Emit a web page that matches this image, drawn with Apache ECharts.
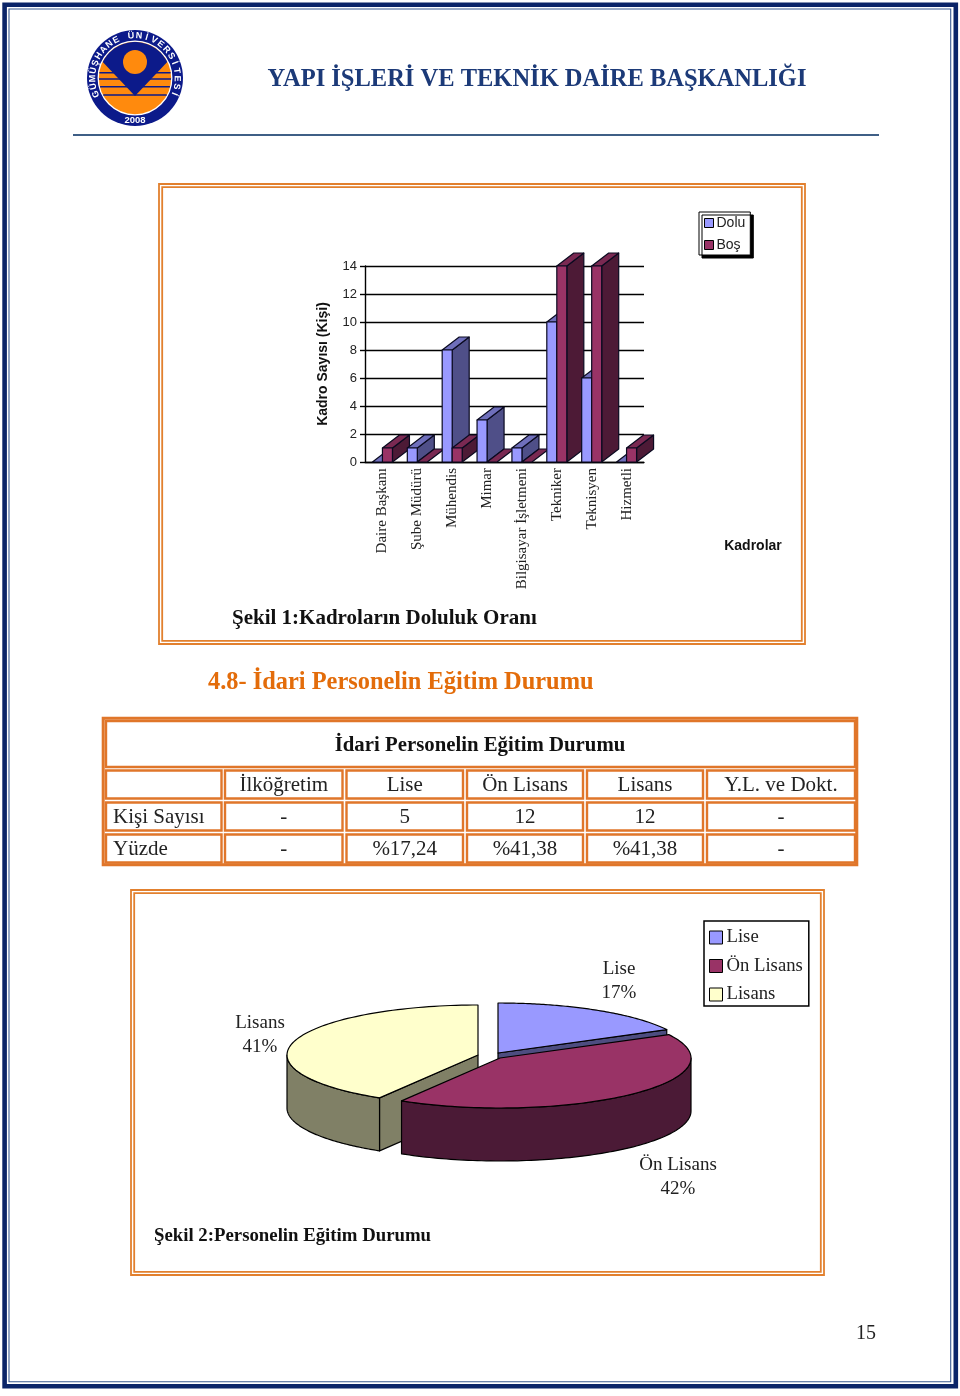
<!DOCTYPE html>
<html><head><meta charset="utf-8">
<style>html,body{margin:0;padding:0;background:#fff}#c{width:960px;height:1396px}</style>
<script src="https://cdn.jsdelivr.net/npm/echarts@6/dist/echarts.min.js"></script>
</head><body><div id="c"></div>
<script>
const categories = ['Daire Başkanı','Şube Müdürü','Mühendis','Mimar','Bilgisayar İşletmeni','Tekniker','Teknisyen','Hizmetli'];
const dolu = [0,1,8,3,1,10,6,0];
const bos = [1,0,1,0,0,14,14,1];
const pieNames = ['Lise','Ön Lisans','Lisans'];
const pieValues = [5,12,12];
const pieLabels = ['17%','42%','41%'];
const tableTitle = 'İdari Personelin Eğitim Durumu';
const tableHead = ['','İlköğretim','Lise','Ön Lisans','Lisans','Y.L. ve Dokt.'];
const tableCount = ['Kişi Sayısı','-','5','12','12','-'];
const tablePct = ['Yüzde','-','%17,24','%41,38','%41,38','-'];

const SERIF = '"Liberation Serif","Times New Roman",serif';
const SANS = '"Liberation Sans",Arial,sans-serif';
const ORANGE = '#e2802e', NAVY = '#0a2468';

const g = [];
function rect(x,y,w,h,stroke,lw,fill){g.push({type:'rect',silent:true,shape:{x,y,width:w,height:h},style:{fill:fill||'none',stroke:stroke,lineWidth:lw}});}
function text(x,y,t,font,fill,align,extra){g.push(Object.assign({type:'text',silent:true,x,y,style:{text:t,font,fill:fill||'#000',align:align||'left',verticalAlign:'middle'}},extra||{}));}
function frame(x,y,w,h){rect(x,y,w,h,ORANGE,1.8);rect(x+3.2,y+3.2,w-6.4,h-6.4,ORANGE,1.8);}

/* page border */
rect(4.6,4.8,951.2,1381.4,NAVY,4.6);
rect(9,9,941.7,1372.7,'#3a5a90',1.1);
/* header */
text(537,79.5,'YAPI İŞLERİ VE TEKNİK DAİRE BAŞKANLIĞI','bold 24.5px '+SERIF,'#1c3a78','center');
g.push({type:'line',silent:true,shape:{x1:73,y1:135,x2:879,y2:135},style:{stroke:'#3f5f86',lineWidth:2}});
/* logo */
(function(){
 const cx=135,cy=78,R=48,r=36;
 g.push({type:'circle',silent:true,shape:{cx,cy,r:R},style:{fill:'#0c1a8a'}});
 g.push({type:'circle',silent:true,shape:{cx,cy,r:r+0.8},style:{fill:'#ff8a0d',stroke:'#fff',lineWidth:1.3}});
 [72.7,79,86.7,95].forEach(y=>{const d=Math.sqrt(r*r-(y-cy)*(y-cy));g.push({type:'line',silent:true,shape:{x1:cx-d,y1:y,x2:cx+d,y2:y},style:{stroke:'#0c1a8a',lineWidth:1.4}});});
 const pts=[];const a0=Math.asin((62-cy)/r);
 for(let i=0;i<=40;i++){const a=Math.PI-a0+(Math.PI+2*a0)*i/40;pts.push([cx+r*Math.cos(a),cy+r*Math.sin(a)]);}
 pts.push([cx,96]);
 g.push({type:'polygon',silent:true,shape:{points:pts},style:{fill:'#0c1a8a'}});
 g.push({type:'circle',silent:true,shape:{cx,cy:62,r:12},style:{fill:'#ff8a0d'}});
 const s='GÜMÜŞHANE ÜNİVERSİTESİ';
 const n=s.length,start=-112*Math.PI/180,end=112*Math.PI/180;
 for(let i=0;i<n;i++){const a=start+(end-start)*i/(n-1);
  g.push({type:'text',silent:true,x:cx+42.3*Math.sin(a),y:cy-42.3*Math.cos(a),rotation:-a,style:{text:s[i],font:'bold 9px '+SANS,fill:'#fff',align:'center',verticalAlign:'middle'}});}
 text(cx,cy+42,'2008','bold 9.5px '+SANS,'#fff','center');
})();
/* frames */
frame(159,184,646,460);
frame(131,890,693,385);
rect(103.2,718.2,753.6,146.6,'#e0762a',3);
/* captions */
text(232,619,'Şekil 1:Kadroların Doluluk Oranı','bold 21px '+SERIF,'#111');
text(208,683,'4.8- İdari Personelin Eğitim Durumu','bold 24.4px '+SERIF,'#e36c0a');
text(154,1236,'Şekil 2:Personelin Eğitim Durumu','bold 18.8px '+SERIF,'#111');
text(866,1333.5,'15','20px '+SERIF,'#222','center');
text(753,546,'Kadrolar','bold 14px '+SANS,'#111','center');
/* table */
(function(){
 const xs=[[106,115.5],[225,117.5],[346.5,116.5],[467,116],[587,116],[707,148]];
 const ys=[[770.5,28],[802.5,28],[834.5,28]];
 rect(106,721,749,46,'#e0762a',2.4);
 text(480,746,tableTitle,'bold 20.8px '+SERIF,'#111','center');
 [tableHead,tableCount,tablePct].forEach((row,ri)=>{
  row.forEach((t,ci)=>{
   rect(xs[ci][0],ys[ri][0],xs[ci][1],ys[ri][1],'#e0762a',2.4);
   const left=ci===0;
   text(left?xs[ci][0]+7:xs[ci][0]+xs[ci][1]/2,ys[ri][0]+14.5,t,'21px '+SERIF,'#222',left?'left':'center');
  });
 });
})();

/* 3D bars */
const barColors=[{front:'#9999ff',side:'#4f4f88',top:'#6f6fbb'},{front:'#993366',side:'#4d1a36',top:'#7a2952'}];
const DX=17,DY=13;
function barRenderer(si){return function(params,api){
 const cat=api.value(0),val=api.value(1);
 const base=api.coord([cat,0]),top=api.coord([cat,val]);
 const bw=api.size([1,0])[0]*0.287;
 const x0=base[0]+(si-1)*bw,x1=x0+bw,y0=base[1],y1=top[1];
 const c=barColors[si],z2=cat*2+si,st=f=>({fill:f,stroke:'#0a0a20',lineWidth:1.2,lineJoin:'round'});
 const ch=[];
 if(val>0){ch.push({type:'polygon',z2,shape:{points:[[x1,y0],[x1+DX,y0-DY],[x1+DX,y1-DY],[x1,y1]]},style:st(c.side)});}
 ch.push({type:'polygon',z2,shape:{points:[[x0,y1],[x0+DX,y1-DY],[x1+DX,y1-DY],[x1,y1]]},style:st(c.top)});
 if(val>0){ch.push({type:'rect',z2,shape:{x:x0,y:y1,width:bw,height:y0-y1},style:st(c.front)});}
 return {type:'group',children:ch};
};}

/* 3D pie */
const PIE={cx:490,cy:1055,rx:191,ry:50,depth:53};
const sliceOffset=[[8,-2],[10,3],[-12,0]];
const sliceColors=[{top:'#9999ff',side:'#4d4d80'},{top:'#993366',side:'#4b1a36'},{top:'#ffffcc',side:'#808066'}];
const sliceLabelPos=[[619,981],[678,1177.5],[260,1035]];
const total=pieValues.reduce((a,b)=>a+b,0);
function pieRenderer(i){return function(params,api){
 const before=pieValues.slice(0,i).reduce((a,b)=>a+b,0);
 const t1=before/total*2*Math.PI,t2=(before+api.value(0))/total*2*Math.PI;
 const cx=PIE.cx+sliceOffset[i][0],cy=PIE.cy+sliceOffset[i][1],d=PIE.depth;
 const P=(t,dy)=>[cx+PIE.rx*Math.sin(t),cy-PIE.ry*Math.cos(t)+(dy||0)];
 const c=sliceColors[i],st=f=>({fill:f,stroke:'#000',lineWidth:1.2,lineJoin:'round'});
 const ch=[];
 const N=90;
 if(Math.sin(t1)<-1e-6) ch.push({type:'polygon',shape:{points:[[cx,cy],P(t1),P(t1,d),[cx,cy+d]]},style:st(c.side)});
 if(Math.sin(t2)>1e-6) ch.push({type:'polygon',shape:{points:[[cx,cy],P(t2),P(t2,d),[cx,cy+d]]},style:st(c.side)});
 const a=Math.max(t1,Math.PI/2),b=Math.min(t2,Math.PI*1.5);
 if(b>a){const up=[],dn=[];for(let k=0;k<=N;k++){const t=a+(b-a)*k/N;up.push(P(t));dn.unshift(P(t,d));}
  ch.push({type:'polygon',shape:{points:up.concat(dn)},style:st(c.side)});}
 const pts=[[cx,cy]];for(let k=0;k<=N;k++)pts.push(P(t1+(t2-t1)*k/N));
 ch.push({type:'polygon',shape:{points:pts},style:st(c.top)});
 ch.push({type:'text',x:sliceLabelPos[i][0],y:sliceLabelPos[i][1],style:{text:pieNames[i]+'\n'+pieLabels[i],font:'19px '+SERIF,lineHeight:24,fill:'#222',align:'center',verticalAlign:'middle'}});
 return {type:'group',children:ch};
};}

const barSeries=[['Dolu',dolu],['Boş',bos]].map((s,si)=>({
 type:'custom',name:s[0],coordinateSystem:'cartesian2d',xAxisIndex:0,yAxisIndex:0,z:3,silent:true,animation:false,clip:false,
 itemStyle:{color:barColors[si].front},
 encode:{x:0,y:1},
 data:s[1].map((v,i)=>[i,v]),
 renderItem:barRenderer(si)
}));
const pieZ=[3,5,4];
const pieSeries=pieNames.map((n,i)=>({
 type:'custom',name:n,coordinateSystem:'none',z:pieZ[i],silent:true,animation:false,
 itemStyle:{color:sliceColors[i].top},
 data:[[pieValues[i]]],
 renderItem:pieRenderer(i)
}));

const chart=echarts.init(document.getElementById('c'),null,{renderer:'canvas'});
chart.setOption({
 animation:false,backgroundColor:'#fff',
 grid:{left:365,top:266,width:279,height:196,containLabel:false},
 xAxis:{type:'category',data:categories,
  axisLine:{lineStyle:{color:'#000',width:1.4}},axisTick:{show:false},
  axisLabel:{rotate:90,interval:0,margin:6,fontFamily:SERIF,fontSize:15,color:'#222'},splitLine:{show:false}},
 yAxis:{type:'value',min:0,max:14,interval:2,name:'Kadro Sayısı (Kişi)',nameLocation:'middle',nameRotate:90,nameGap:35,
  nameTextStyle:{fontFamily:SANS,fontSize:14,fontWeight:'bold',color:'#111'},
  axisLine:{show:true,lineStyle:{color:'#000',width:1.4}},axisTick:{show:true,length:5,lineStyle:{color:'#000',width:1.4}},
  axisLabel:{margin:8,fontFamily:SANS,fontSize:13,color:'#222',padding:[2,0,0,0]},splitLine:{show:true,lineStyle:{color:'#000',width:1.4}}},
 legend:[
  {data:['Dolu','Boş'],orient:'vertical',left:699,top:212,padding:[4,5,3,5],itemWidth:9,itemHeight:9,itemGap:8,selectedMode:false,
   backgroundColor:'#fff',borderColor:'#000',borderWidth:1,shadowColor:'#000',shadowOffsetX:3,shadowOffsetY:3,shadowBlur:0.01,
   textStyle:{fontFamily:SANS,fontSize:14,color:'#222',padding:[1,0,0,-2]},icon:'rect',itemStyle:{borderColor:'#000',borderWidth:1}},
  {data:pieNames,orient:'vertical',left:704,top:921,padding:[7,6,2,5],itemWidth:13,itemHeight:13,itemGap:9.5,selectedMode:false,
   backgroundColor:'#fff',borderColor:'#000',borderWidth:1.5,
   textStyle:{fontFamily:SERIF,fontSize:18.7,color:'#222',padding:[0,0,0,-1]},icon:'rect',itemStyle:{borderColor:'#000',borderWidth:1}}
 ],
 graphic:{elements:g},
 series:barSeries.concat(pieSeries)
});
</script></body></html>
